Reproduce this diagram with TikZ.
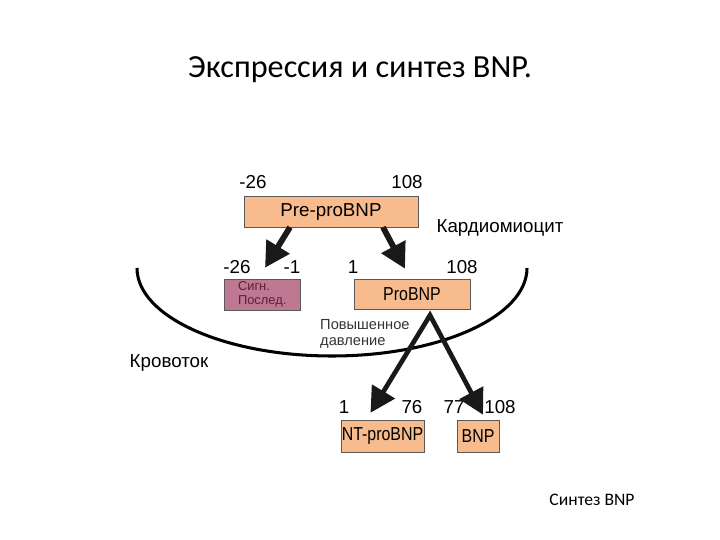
\documentclass[tikz,border=0pt]{standalone}
\usepackage{fontspec}
\setmainfont{Liberation Sans}
\newfontfamily\slidefont{Carlito}
\newfontfamily\narrowfont{Liberation Sans}[FakeStretch=0.85]
\usepackage{xcolor}
\usetikzlibrary{arrows.meta, calc}
\definecolor{peach}{RGB}{247,187,142}
\definecolor{mauve}{RGB}{191,120,146}
\definecolor{plumtext}{RGB}{88,32,60}
\tikzset{
  peptide/.style={rectangle, draw=black!65, fill=peach, inner sep=0pt, align=center, font=\fontsize{16}{18}\selectfont},
  signal/.style={rectangle, draw=black!65, fill=mauve, inner xsep=0.42cm, inner ysep=0pt, text width=1.44cm, align=left, text=plumtext, font=\fontsize{11}{12}\selectfont},
  resid/.style={inner sep=0pt, font=\fontsize{16}{18}\selectfont},
  place/.style={inner sep=0pt, font=\fontsize{16}{18}\selectfont},
  cleave/.style={-{Triangle[length=0.75cm, width=0.78cm]}, line width=5pt, black!90},
}

\begin{document}
\begin{tikzpicture}[x=0.03cm, y=-0.03cm]
\useasboundingbox (0,0) rectangle (720,540);

% titles
\node[font=\slidefont\fontsize{27.5}{32}\selectfont] (title) at (360,70) {Экспрессия и синтез BNP.};
\node[font=\slidefont\fontsize{15}{18}\selectfont] (caption) at (592,500) {Синтез BNP};

% cell membrane
\draw[line width=2.6pt] (137,268) arc[start angle=180, end angle=0, x radius=195, y radius=88];

% peptides
\node[peptide, minimum width=5.22cm, minimum height=0.93cm] (prepro) at (331,211.5) {Pre-proBNP};
\node[signal, minimum height=0.93cm] (sig) at (262,294.5) {Сигн.\\Послед.};
\node[peptide, minimum width=3.48cm, minimum height=0.9cm, font=\narrowfont\fontsize{16}{18}\selectfont] (pro) at (412,294) {ProBNP};
\node[peptide, minimum width=2.49cm, minimum height=0.96cm, font=\narrowfont\fontsize{16}{18}\selectfont] (nt) at (382.5,436) {NT-proBNP};
\node[peptide, minimum width=1.26cm, minimum height=0.96cm, font=\narrowfont\fontsize{16}{18}\selectfont] (bnp) at (478,436) {BNP};

% residue numbers
\node[resid] (preA) at (253,182) {-26};
\node[resid] (preB) at (407,182) {108};
\node[resid] (sigA) at (237,267) {-26};
\node[resid] (sigB) at (292,267) {-1};
\node[resid] (proA) at (353,267) {1};
\node[resid] (proB) at (462,267) {108};
\node[resid] (ntA)  at (344,407) {1};
\node[resid] (ntB)  at (412,407) {76};
\node[resid] (bnpA) at (454,407) {77};
\node[resid] (bnpB) at (500,407) {108};

% compartments
\node[place] (cardio) at (500,228) {Кардиомиоцит};
\node[place] (blood)  at (169,363) {Кровоток};
\node[inner sep=0pt, anchor=west, align=left, text=black!80, font=\fontsize{12.5}{14}\selectfont] (press) at (320,334) {Повышенное\\давление};

% cleavage
\draw[cleave] ($(prepro.south)+(-41,0)$) -- ($(sig.north)+(3,-11)$);
\draw[cleave] ($(prepro.south)+(52,0)$) -- ($(pro.north)+(-7,-10)$);
\draw[cleave, line width=4pt, {Triangle[length=0.75cm, width=0.78cm]}-{Triangle[length=0.75cm, width=0.78cm]}, line join=miter]
  ($(nt.north)+(-12,-7)$) -- ($(pro.south)+(18,6)$) -- ($(bnp.north)+(5,-5)$);
\end{tikzpicture}
\end{document}
